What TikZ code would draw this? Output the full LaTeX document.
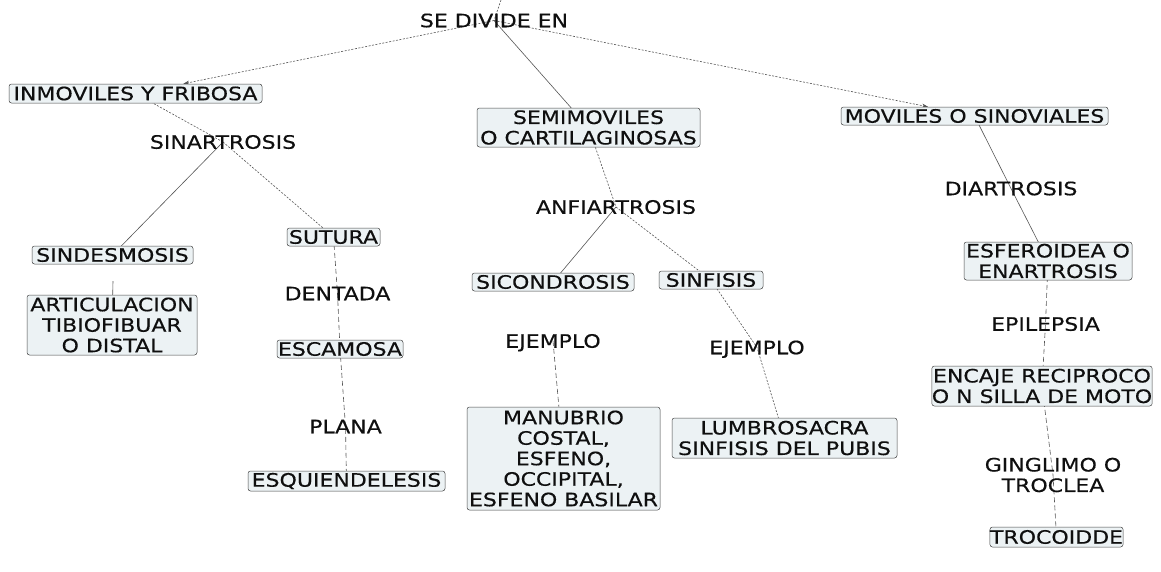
\documentclass[tikz,border=0pt]{standalone}
\usepackage{fontspec}
\setmainfont{DejaVu Sans}[FakeStretch=1.19,FakeBold=0.35]
\usetikzlibrary{backgrounds,arrows.meta}
\definecolor{boxfill}{RGB}{236,242,244}
\definecolor{boxline}{RGB}{70,70,70}
\definecolor{lncol}{RGB}{85,85,85}
\definecolor{txt}{RGB}{15,15,15}
\begin{document}
\begin{tikzpicture}[x=1pt,y=-1pt,
  font=\fontsize{18.5}{20.5}\selectfont,
  concept/.style={draw=boxline, line width=0.5pt, fill=boxfill, rounded corners=2.5pt,
    inner sep=0pt, align=center, text=txt},
  linkph/.style={inner sep=0pt, text height=13.5pt, text depth=0pt, text=txt},
  linkml/.style={inner sep=0pt, align=center, text=txt},
  cn/.style={draw=lncol, line width=0.6pt},
  cndot/.style={cn, dash pattern=on 2pt off 1.5pt},
  cndash/.style={cn, dash pattern=on 5pt off 3pt},
  tip/.style={-{Stealth[length=6pt,width=4pt]}}]
\useasboundingbox (0,0) rectangle (1161,571);

% link phrases
\node[linkph] (sede) at (494,20.5) {SE DIVIDE EN};
\node[linkph] (sinar) at (223,142) {SINARTROSIS};
\node[linkph] (dentada) at (337.5,293.5) {DENTADA};
\node[linkph] (plana) at (345.5,426.5) {PLANA};
\node[linkph] (anfi) at (616,207) {ANFIARTROSIS};
\node[linkph] (ej1) at (553,341) {EJEMPLO};
\node[linkph] (ej2) at (757,347.5) {EJEMPLO};
\node[linkph] (diar) at (1011,188.5) {DIARTROSIS};
\node[linkph] (epi) at (1045.5,324) {EPILEPSIA};
\node[linkml] (ging) at (1053,475) {GINGLIMO O\\TROCLEA};

% concepts
\node[concept, minimum width=253pt, minimum height=19pt] (inm) at (135.5,93.5) {INMOVILES Y FRIBOSA};
\node[concept, minimum width=161pt, minimum height=18pt] (sindes) at (112.5,255) {SINDESMOSIS};
\node[concept, minimum width=170pt, minimum height=60pt] (artic) at (112,325) {ARTICULACION\\TIBIOFIBUAR\\O DISTAL};
\node[concept, minimum width=93pt, minimum height=18pt] (sutura) at (333.5,237) {SUTURA};
\node[concept, minimum width=126pt, minimum height=18pt] (escamosa) at (340,349) {ESCAMOSA};
\node[concept, minimum width=197pt, minimum height=20pt] (esq) at (346.5,481) {ESQUIENDELESIS};
\node[concept, minimum width=223pt, minimum height=39pt] (semi) at (588.5,127.5) {SEMIMOVILES\\O CARTILAGINOSAS};
\node[concept, minimum width=162pt, minimum height=18pt] (sicon) at (553,282) {SICONDROSIS};
\node[concept, minimum width=104pt, minimum height=18pt] (sinf) at (711,280) {SINFISIS};
\node[concept, minimum width=193pt, minimum height=103pt] (manu) at (563.5,458.5) {MANUBRIO\\COSTAL,\\ESFENO,\\OCCIPITAL,\\ESFENO BASILAR};
\node[concept, minimum width=225pt, minimum height=40pt] (lumb) at (784.5,438) {LUMBROSACRA\\SINFISIS DEL PUBIS};
\node[concept, minimum width=267pt, minimum height=18pt] (mov) at (974.5,116) {MOVILES O SINOVIALES};
\node[concept, minimum width=168pt, minimum height=38pt] (esf) at (1048,261) {ESFEROIDEA O\\ENARTROSIS};
\node[concept, minimum width=220pt, minimum height=40pt] (encaje) at (1042,386) {ENCAJE RECIPROCO\\O N SILLA DE MOTO};
\node[concept, minimum width=131pt, minimum height=20pt] (troc) at (1056.5,537) {TROCOIDDE};

\coordinate (top) at (501,0);
\coordinate (sdlink) at (113,281);

\begin{scope}[on background layer]
\fill[white] (0,0) rectangle (1161,571);
\draw[cndot] (top) -- (sede.center);
\draw[cndot, tip] (sede.center) -- (inm);
\draw[cn] (sede.center) -- (semi.center);
\draw[cndot, tip] (sede.center) -- (mov);
\draw[cndot] (inm.center) -- (sinar.center);
\draw[cn] (sinar.center) -- (sindes.center);
\draw[cndot] (sinar.center) -- (sutura.center);
\draw[cn] (sdlink) -- (artic.center);
\draw[cndash] (sutura.center) -- (dentada.center) -- (escamosa.center);
\draw[cndash] (escamosa.center) -- (plana.center) -- (esq.center);
\draw[cndot] (semi.center) -- (anfi.center);
\draw[cn] (anfi.center) -- (sicon.center);
\draw[cndot] (anfi.center) -- (sinf.center);
\draw[cndash] (ej1.center) -- (manu.center);
\draw[cndot] (sinf.center) -- (ej2.center) -- (lumb.center);
\draw[cn] (mov.center) -- (diar.center) -- (esf.center);
\draw[cndash] (esf.center) -- (epi.center) -- (encaje.center);
\draw[cndash] (encaje.center) -- (ging.center) -- (troc.center);
\end{scope}
\end{tikzpicture}
\end{document}
